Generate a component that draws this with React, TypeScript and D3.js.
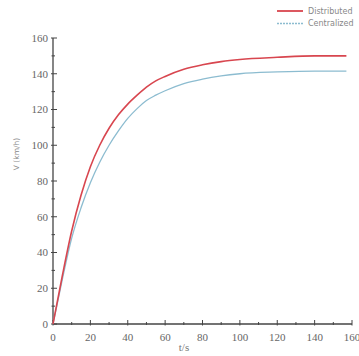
import { useEffect, useRef } from 'react';
import * as d3 from 'd3';

const distT = [0, 5, 10, 15, 20, 25, 30, 35, 40, 45, 50, 55, 60, 70, 80, 90, 100, 120, 140, 157];
const distV = [0, 27, 52, 72, 88, 100, 109.5, 117, 123, 128, 132.5, 136, 138.5, 142.5, 145, 146.8, 148, 149.2, 150, 150];
const centT = [0, 5, 10, 15, 20, 25, 30, 35, 40, 45, 50, 55, 60, 70, 80, 90, 100, 120, 140, 157];
const centV = [0, 25, 48, 65, 79, 90.5, 100, 108, 115, 120.5, 125, 128, 130.5, 134.5, 137, 138.8, 140, 141, 141.5, 141.5];
const xTicks = [0, 20, 40, 60, 80, 100, 120, 140, 160];
const yTicks = [0, 20, 40, 60, 80, 100, 120, 140, 160];
const seriesNames = ['Distributed', 'Centralized'];

export default function App() {
  const svgRef = useRef<SVGSVGElement>(null);
  const width = 359;
  const height = 356;

  useEffect(() => {
    if (!svgRef.current) return;
    const svg = d3.select(svgRef.current);
    svg.selectAll('*').remove();

    const x = d3.scaleLinear().domain([0, 160]).range([53, 352]);
    const y = d3.scaleLinear().domain([0, 160]).range([324, 38]);
    const axisColor = '#444';
    const tickFont = "'Liberation Serif', 'DejaVu Serif', serif";

    // axes lines
    svg.append('line')
      .attr('x1', x(0)).attr('x2', x(0))
      .attr('y1', y(0)).attr('y2', y(160))
      .attr('stroke', axisColor).attr('stroke-width', 1.3);
    svg.append('line')
      .attr('x1', x(0)).attr('x2', x(160))
      .attr('y1', y(0)).attr('y2', y(0))
      .attr('stroke', axisColor).attr('stroke-width', 1.3);

    // y ticks
    d3.range(0, 161, 10).forEach(v => {
      const major = v % 20 === 0;
      svg.append('line')
        .attr('x1', x(0) - (major ? 2 : 1.5)).attr('x2', x(0) + (major ? 4 : 2))
        .attr('y1', y(v)).attr('y2', y(v))
        .attr('stroke', axisColor).attr('stroke-width', 1);
    });
    // x ticks
    d3.range(0, 161, 10).forEach(t => {
      const major = t % 20 === 0;
      svg.append('line')
        .attr('x1', x(t)).attr('x2', x(t))
        .attr('y1', y(0) + (major ? 1.5 : 1)).attr('y2', y(0) - (major ? 4 : 2))
        .attr('stroke', axisColor).attr('stroke-width', 1);
    });

    svg.selectAll('.ylab')
      .data(yTicks)
      .enter()
      .append('text')
      .attr('x', 48)
      .attr('y', d => y(d))
      .attr('dy', '0.35em')
      .attr('text-anchor', 'end')
      .attr('font-family', tickFont)
      .attr('font-size', '11px')
      .attr('fill', '#666')
      .text(d => `${d}`);

    svg.selectAll('.xlab')
      .data(xTicks)
      .enter()
      .append('text')
      .attr('x', d => x(d))
      .attr('y', 341)
      .attr('text-anchor', 'middle')
      .attr('font-family', tickFont)
      .attr('font-size', '11px')
      .attr('fill', '#666')
      .text(d => `${d}`);

    svg.append('text')
      .attr('transform', `translate(19,154) rotate(-90)`)
      .attr('text-anchor', 'middle')
      .attr('font-family', "'DejaVu Sans', sans-serif")
      .attr('font-size', '7.5px')
      .attr('fill', '#888')
      .text('V (km/h)');

    svg.append('text')
      .attr('x', 184)
      .attr('y', 351)
      .attr('text-anchor', 'middle')
      .attr('font-family', tickFont)
      .attr('font-size', '11px')
      .attr('fill', '#777')
      .text('t/s');

    const line = d3.line<[number, number]>()
      .x(d => x(d[0]))
      .y(d => y(d[1]))
      .curve(d3.curveMonotoneX);

    const dist = distT.map((t, i) => [t, distV[i]] as [number, number]);
    const cent = centT.map((t, i) => [t, centV[i]] as [number, number]);
    const colors = ['#d8464f', '#8cbcd0'];

    svg.append('path')
      .attr('d', line(cent))
      .attr('fill', 'none')
      .attr('stroke', colors[1])
      .attr('stroke-width', 1.3);

    svg.append('path')
      .attr('d', line(dist))
      .attr('fill', 'none')
      .attr('stroke', colors[0])
      .attr('stroke-width', 1.6);

    // legend
    seriesNames.forEach((name, i) => {
      const ly = 11 + i * 12.5;
      svg.append('line')
        .attr('x1', 277).attr('x2', 303)
        .attr('y1', ly).attr('y2', ly)
        .attr('stroke', colors[i])
        .attr('stroke-width', i === 0 ? 1.8 : 1.3)
        .attr('stroke-dasharray', i === 0 ? null : '2,1');
      svg.append('text')
        .attr('x', 308)
        .attr('y', ly)
        .attr('dy', '0.35em')
        .attr('font-family', "'DejaVu Sans', sans-serif")
        .attr('font-size', '8px')
        .attr('fill', '#888')
        .text(name);
    });
  }, []);

  return (
    <svg
      ref={svgRef}
      width={width}
      height={height}
      style={{ position: 'absolute', left: 0, top: 0, background: '#fff' }}
    />
  );
}
